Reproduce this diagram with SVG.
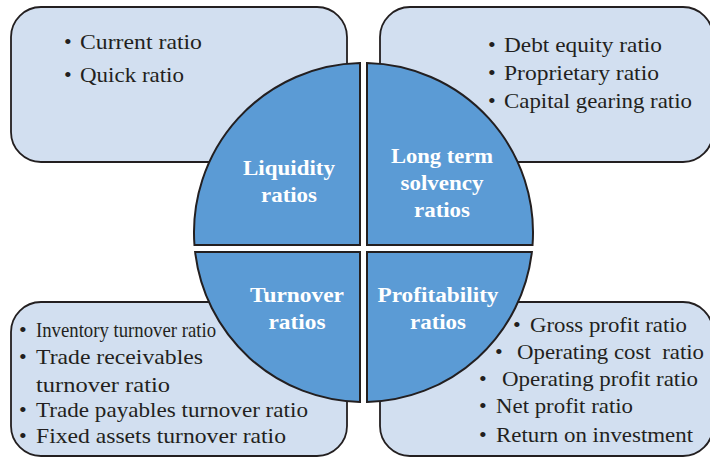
<svg xmlns="http://www.w3.org/2000/svg" width="710" height="457" viewBox="0 0 710 457">
<style>
.box{fill:#d2dff0;stroke:#231f20;stroke-width:1.8}
.quad{fill:#5b9bd5;stroke:#231f20;stroke-width:2}
.item{font-family:"Liberation Serif","Times New Roman",serif;font-size:22px;fill:#231f20}
.bul{font-family:"Liberation Serif","Times New Roman",serif;font-size:22px;fill:#231f20}
.lbl{font-family:"Liberation Serif","Times New Roman",serif;font-size:22px;font-weight:bold;fill:#ffffff;text-anchor:middle}
</style>
<rect width="710" height="457" fill="#ffffff"/>
<g id="box-liquidity">
<rect class="box" x="11" y="7" width="336" height="155" rx="30" ry="30"/>
<text class="bul" x="64" y="49">•</text>
<text class="item" x="80" y="49" textLength="122" lengthAdjust="spacingAndGlyphs">Current ratio</text>
<text class="bul" x="64" y="82">•</text>
<text class="item" x="80" y="82" textLength="104" lengthAdjust="spacingAndGlyphs">Quick ratio</text>
</g>
<g id="box-solvency">
<rect class="box" x="380" y="7" width="333" height="155" rx="30" ry="30"/>
<text class="bul" x="488" y="52">•</text>
<text class="item" x="504" y="52" textLength="158" lengthAdjust="spacingAndGlyphs">Debt equity ratio</text>
<text class="bul" x="488" y="80">•</text>
<text class="item" x="504" y="80" textLength="155" lengthAdjust="spacingAndGlyphs">Proprietary ratio</text>
<text class="bul" x="488" y="108">•</text>
<text class="item" x="504" y="108" textLength="188" lengthAdjust="spacingAndGlyphs">Capital gearing ratio</text>
</g>
<g id="box-turnover">
<rect class="box" x="11" y="302" width="336" height="154" rx="30" ry="30"/>
<text class="bul" x="19" y="337">•</text>
<text class="item" x="36" y="337" textLength="180" lengthAdjust="spacingAndGlyphs">Inventory turnover ratio</text>
<text class="bul" x="19" y="364">•</text>
<text class="item" x="36" y="364" textLength="167" lengthAdjust="spacingAndGlyphs">Trade receivables</text>
<text class="item" x="36" y="392" textLength="134" lengthAdjust="spacingAndGlyphs">turnover ratio</text>
<text class="bul" x="19" y="417">•</text>
<text class="item" x="36" y="417" textLength="272" lengthAdjust="spacingAndGlyphs">Trade payables turnover ratio</text>
<text class="bul" x="19" y="443">•</text>
<text class="item" x="36" y="443" textLength="250" lengthAdjust="spacingAndGlyphs">Fixed assets turnover ratio</text>
</g>
<g id="box-profitability">
<rect class="box" x="380" y="302" width="333" height="154" rx="30" ry="30"/>
<text class="bul" x="513" y="332">•</text>
<text class="item" x="530" y="332" textLength="157" lengthAdjust="spacingAndGlyphs">Gross profit ratio</text>
<text class="bul" x="495" y="359">•</text>
<text class="item" x="517" y="359" textLength="187" lengthAdjust="spacingAndGlyphs" xml:space="preserve">Operating cost  ratio</text>
<text class="bul" x="479" y="386">•</text>
<text class="item" x="502" y="386" textLength="196" lengthAdjust="spacingAndGlyphs">Operating profit ratio</text>
<text class="bul" x="479" y="413">•</text>
<text class="item" x="496" y="413" textLength="137" lengthAdjust="spacingAndGlyphs">Net profit ratio</text>
<text class="bul" x="479" y="442">•</text>
<text class="item" x="496" y="442" textLength="197" lengthAdjust="spacingAndGlyphs">Return on investment</text>
</g>
<g id="node-liquidity">
<path class="quad" d="M360,245 L194.46,245 A169.5,169.5 0 0 1 360,63.04 Z"/>
<text class="lbl" x="289" y="175" textLength="92" lengthAdjust="spacingAndGlyphs">Liquidity</text>
<text class="lbl" x="289" y="202" textLength="56" lengthAdjust="spacingAndGlyphs">ratios</text>
</g>
<g id="node-solvency">
<path class="quad" d="M367,245 L367,63.04 A169.5,169.5 0 0 1 532.54,245 Z"/>
<text class="lbl" x="442" y="163" textLength="102" lengthAdjust="spacingAndGlyphs">Long term</text>
<text class="lbl" x="442" y="190" textLength="83" lengthAdjust="spacingAndGlyphs">solvency</text>
<text class="lbl" x="442" y="217" textLength="56" lengthAdjust="spacingAndGlyphs">ratios</text>
</g>
<g id="node-turnover">
<path class="quad" d="M360,252 L360,401.96 A169.5,169.5 0 0 1 195.13,252 Z"/>
<text class="lbl" x="297" y="302" textLength="94" lengthAdjust="spacingAndGlyphs">Turnover</text>
<text class="lbl" x="297" y="329" textLength="57" lengthAdjust="spacingAndGlyphs">ratios</text>
</g>
<g id="node-profitability">
<path class="quad" d="M367,252 L531.87,252 A169.5,169.5 0 0 1 367,401.96 Z"/>
<text class="lbl" x="438" y="302" textLength="121" lengthAdjust="spacingAndGlyphs">Profitability</text>
<text class="lbl" x="438" y="329" textLength="56" lengthAdjust="spacingAndGlyphs">ratios</text>
</g>
<g id="connectors"></g>
</svg>
